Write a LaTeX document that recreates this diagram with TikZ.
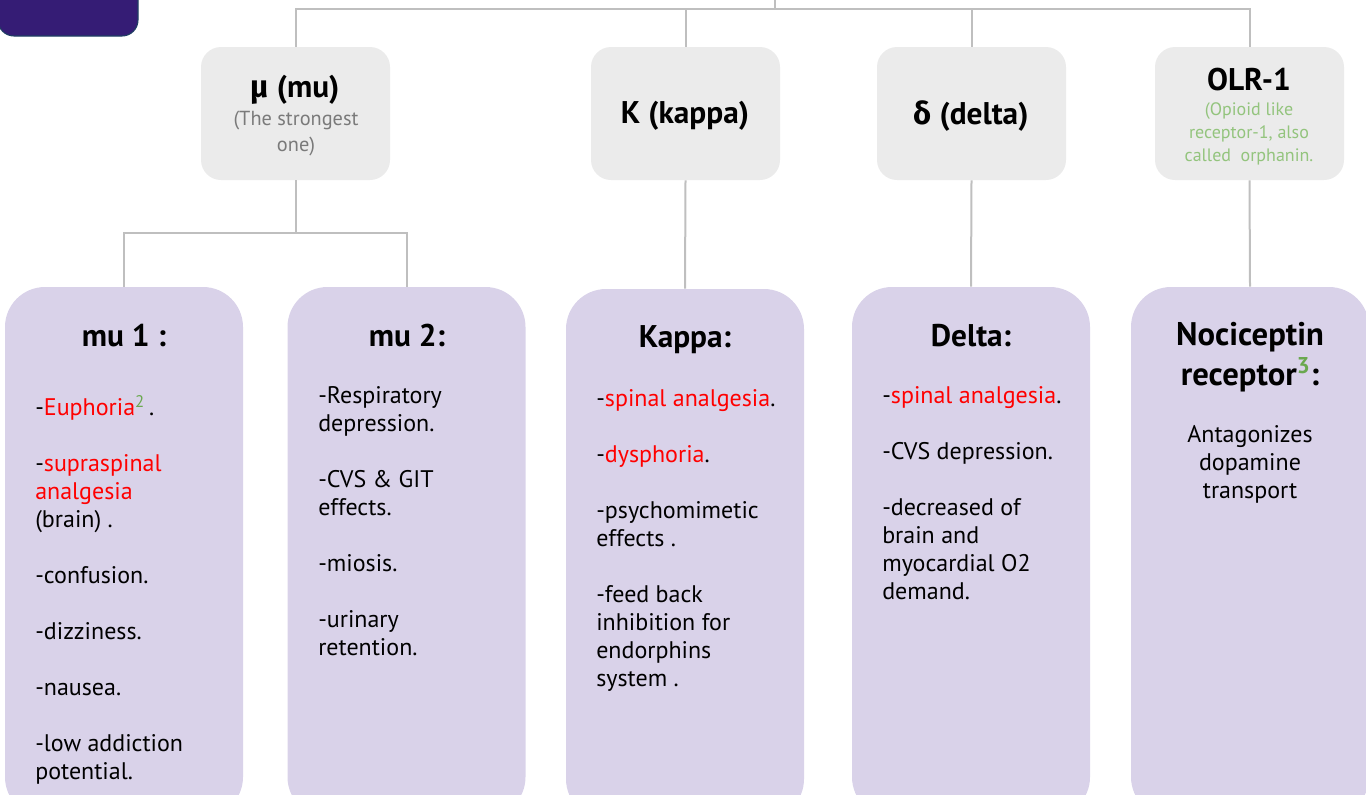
\documentclass[tikz,border=0pt]{standalone}
\usepackage{fontspec}
\setmainfont{PT Sans}
\newfontfamily\grk{Fira Sans}
\definecolor{boxgrey}{HTML}{EBEBEB}
\definecolor{boxpurple}{HTML}{D9D2E9}
\definecolor{linegrey}{HTML}{BFBFBF}
\definecolor{tabpurple}{HTML}{351C75}
\definecolor{tabedge}{HTML}{1F3F63}
\definecolor{subgrey}{HTML}{7A7A7A}
\definecolor{lightgreen}{HTML}{93C47D}
\definecolor{supgreen}{HTML}{6AA84F}
\definecolor{hired}{HTML}{FF0000}
\begin{document}
\begin{tikzpicture}[x=0.75pt,y=-0.75pt,
  greybox/.style={rectangle, rounded corners=15pt, fill=boxgrey, minimum width=141.75pt, minimum height=99.75pt, inner sep=0pt},
  purplebox/.style={rectangle, rounded corners=30pt, fill=boxpurple, minimum width=178.5pt, minimum height=397.5pt, inner sep=0pt},
  link/.style={draw=linegrey, line width=1.5pt},
  head/.style={font=\fontsize{23.5}{30}\selectfont\bfseries, align=center, inner sep=0pt},
  bighead/.style={font=\fontsize{24.5}{30}\selectfont\bfseries, align=center, inner sep=0pt},
  body/.style={font=\fontsize{18}{21}\selectfont, align=left, anchor=north west, inner sep=0pt},
  subtxt/.style={font=\fontsize{15.25}{19.5}\selectfont, text=subgrey, align=center, inner sep=0pt},
  greentxt/.style={font=\fontsize{13.5}{17.25}\selectfont, text=lightgreen, align=center, inner sep=0pt}]
\useasboundingbox (0,0) rectangle (1366,794);
\clip (0,0) rectangle (1366,794);

% corner tab
\draw[fill=tabpurple, draw=tabedge, line width=0.8pt, rounded corners=12pt] (-2,-30) rectangle (138,36);

% grey receptor boxes
\node[greybox] (mu) at (295.5,113.5) {};
\node[greybox] (kappa) at (685.5,113.5) {};
\node[greybox] (delta) at (971.5,113.5) {};
\node[greybox] (olr) at (1249.5,113.5) {};

% purple effect boxes
\node[purplebox] (mua) at (124,552) {};
\node[purplebox] (mub) at (406.5,552) {};
\node[purplebox] (kp) at (685,554) {};
\node[purplebox] (dl) at (971,552) {};
\node[purplebox] (nc) at (1250,552) {};

% connectors
\coordinate (top) at (775,-5);
\coordinate (hub) at (775,9);
\coordinate (split) at (295.5,233);
\draw[link] (top) -- (hub);
\draw[link] (mu.north) |- (hub);
\draw[link] (kappa.north) |- (hub);
\draw[link] (delta.north) |- (hub);
\draw[link] (olr.north) |- (hub);
\draw[link] (mu.south) -- (split);
\draw[link] (mua.north) |- (split);
\draw[link] (mub.north) |- (split);
\draw[link] (kappa.south) -- (kp.north);
\draw[link] (delta.south) -- (dl.north);
\draw[link] (olr.south) -- (nc.north);

% grey box texts
\node[head] (mutitle) at (295,90) {{\grk μ} (mu)};
\node[subtxt] (musub) at (296,133) {(The strongest\\one)};
\node[head] (kappatitle) at (685,116) {K (kappa)};
\node[head] (deltatitle) at (971,116) {{\grk δ} (delta)};
\node[head] (olrtitle) at (1249,80) {OLR-1};
\node[greentxt] (olrsub) at (1249,134) {(Opioid like\\receptor-1, also\\called\ \ orphanin.};

% purple box headers
\node[head] (muahead) at (124,336) {mu 1 :};
\node[head] (mubhead) at (407,336) {mu 2:};
\node[head] (kphead) at (685,340) {Kappa:};
\node[head] (dlhead) at (971,336) {Delta:};
\node[bighead] (nchead) at (1250,357) {Nociceptin\\receptor\textsuperscript{\textcolor{supgreen}{3}}:};

% purple box bodies
\node[body] (muabody) at (35,395) {-\textcolor{hired}{Euphoria}\textsuperscript{\textcolor{supgreen}{2}}\,.\\[21pt]
-\textcolor{hired}{supraspinal}\\\textcolor{hired}{analgesia}\\(brain) .\\[21pt]
-confusion.\\[21pt]
-dizziness.\\[21pt]
-nausea.\\[21pt]
-low addiction\\potential.};
\node[body] (mubbody) at (318,386) {-Respiratory\\depression.\\[21pt]
-CVS \& GIT\\effects.\\[21pt]
-miosis.\\[21pt]
-urinary\\retention.};
\node[body] (kpbody) at (596,389) {-\textcolor{hired}{spinal analgesia}.\\[21pt]
-\textcolor{hired}{dysphoria}.\\[21pt]
-psychomimetic\\effects .\\[21pt]
-feed back\\inhibition for\\endorphins\\system .};
\node[body] (dlbody) at (882,386) {-\textcolor{hired}{spinal analgesia}.\\[21pt]
-CVS depression.\\[21pt]
-decreased of\\brain and\\myocardial O2\\demand.};
\node[body, align=center, anchor=north] (ncbody) at (1250,425) {Antagonizes\\dopamine\\transport};
\end{tikzpicture}
\end{document}
